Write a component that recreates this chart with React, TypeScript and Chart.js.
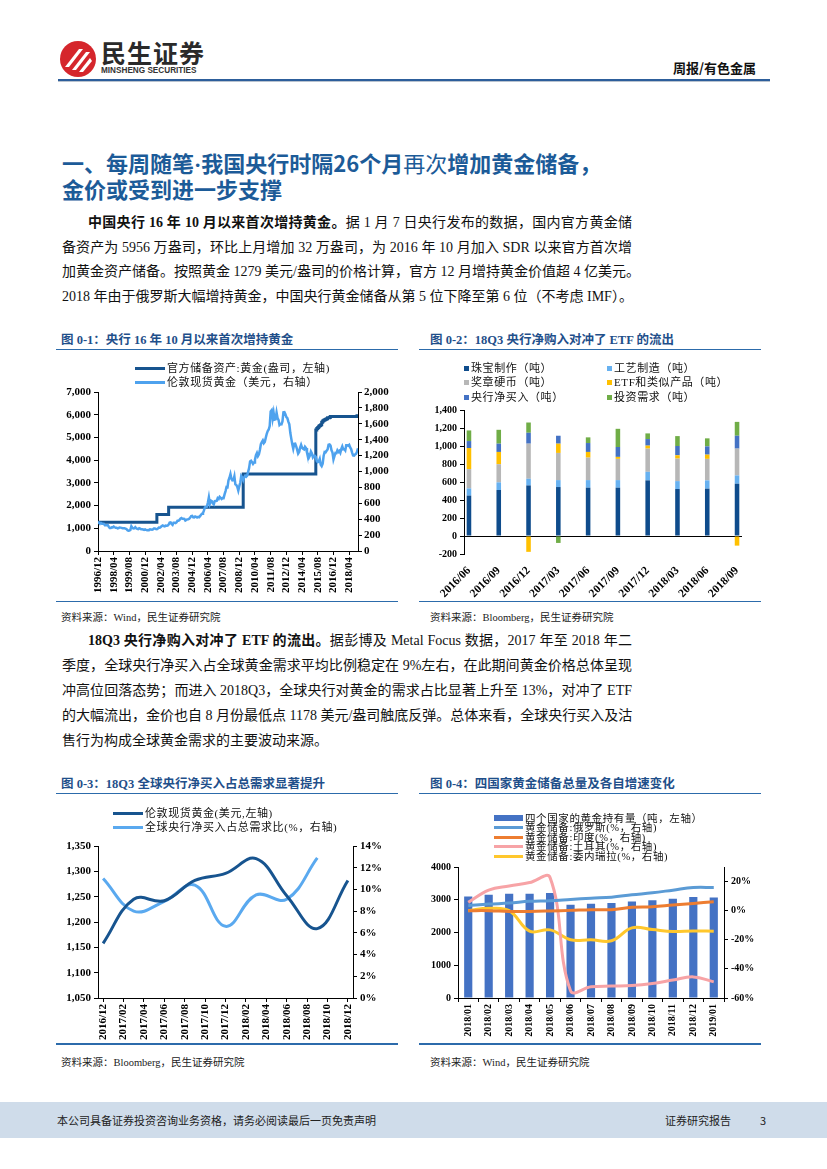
import React, { useEffect, useRef } from "react";
import { Chart, registerables } from "chart.js";
Chart.register(...registerables);

// ---------------- Data: 图 0-1 ----------------
const c1StartYear = 1996;
const c1StartMonth = 12;
const c1LastIndex = 265; // 2019/01
const c1TickIndexes = [0, 16, 32, 48, 64, 80, 96, 112, 128, 144, 160, 176, 192, 208, 224, 240, 256];
// London spot gold, USD/oz, monthly from 1996/12 to 2019/01
const goldLondon = [
  369,
  355, 346, 352, 344, 344, 341, 324, 324, 323, 325, 306, 289,
  289, 297, 296, 308, 299, 292, 293, 284, 289, 296, 294, 291,
  287, 287, 286, 282, 277, 262, 256, 257, 265, 311, 293, 283,
  284, 300, 286, 280, 275, 286, 282, 274, 273, 270, 266, 272,
  266, 262, 263, 261, 272, 270, 268, 273, 283, 283, 276, 275,
  282, 295, 294, 302, 314, 321, 314, 310, 319, 317, 319, 333,
  357, 359, 340, 328, 355, 356, 351, 360, 379, 379, 389, 407,
  414, 405, 406, 404, 384, 392, 398, 400, 406, 420, 439, 442,
  424, 423, 434, 429, 422, 430, 424, 438, 456, 470, 476, 510,
  549, 555, 557, 610, 676, 596, 634, 627, 599, 586, 627, 629,
  631, 665, 655, 680, 668, 655, 666, 665, 713, 754, 806, 803,
  889, 922, 968, 909, 888, 890, 939, 839, 830, 806, 760, 816,
  858, 943, 924, 890, 928, 946, 934, 949, 996, 1043, 1127, 1135,
  1118, 1095, 1113, 1148, 1205, 1232, 1193, 1215, 1271, 1343, 1370, 1391,
  1356, 1372, 1424, 1474, 1510, 1528, 1572, 1756, 1772, 1665, 1739, 1652,
  1656, 1742, 1673, 1650, 1585, 1596, 1594, 1630, 1745, 1747, 1721, 1685,
  1671, 1627, 1593, 1487, 1414, 1343, 1286, 1347, 1349, 1316, 1275, 1225,
  1244, 1300, 1336, 1299, 1287, 1279, 1311, 1296, 1239, 1222, 1176, 1200,
  1251, 1227, 1179, 1198, 1199, 1181, 1131, 1117, 1125, 1157, 1086, 1068,
  1097, 1199, 1245, 1242, 1260, 1276, 1337, 1341, 1326, 1267, 1238, 1151,
  1192, 1234, 1231, 1266, 1246, 1260, 1236, 1283, 1315, 1279, 1282, 1265,
  1331, 1331, 1325, 1335, 1303, 1282, 1238, 1202, 1199, 1215, 1221, 1250,
  1291,
];
// Official gold reserves (万盎司): months where the value changes
const reserveMonths = [
  "1996/12", "2001/12", "2002/12", "2009/04", "2015/06", "2015/07", "2015/08", "2015/09",
  "2015/10", "2015/11", "2015/12", "2016/01", "2016/02", "2016/03", "2016/04", "2016/05",
  "2016/06", "2016/08", "2016/09", "2018/12", "2019/01",
];
const reserveValues = [
  1267, 1608, 1929, 3389, 5332, 5393, 5441, 5493,
  5524, 5557, 5666, 5719, 5752, 5778, 5798, 5823,
  5862, 5888, 5924, 5956, 5956,
];

// ---------------- Data: 图 0-2 ----------------
const c2Quarters = ["2016/06", "2016/09", "2016/12", "2017/03", "2017/06", "2017/09", "2017/12", "2018/03", "2018/06", "2018/09"];
const jewelry = [449, 511, 562, 544, 537, 537, 618, 522, 526, 581];
const technology = [80, 85, 74, 77, 84, 84, 95, 88, 92, 92];
const medalsCoins = [214, 202, 390, 302, 250, 236, 258, 250, 239, 298];
const etfFlows = [235, 136, -176, 103, 63, 22, 33, 37, 47, -107];
const centralBanks = [77, 92, 121, 88, 99, 110, 73, 103, 92, 143];
const investment = [118, 154, 114, -77, 63, 202, 63, 110, 89, 154];

// ---------------- Data: 图 0-3 ----------------
const c3StartYear = 2016;
const c3StartMonth = 12;
const c3TickIndexes = [0, 2, 4, 6, 8, 10, 12, 14, 16, 18, 20, 22, 24];
const c3Months = ["2016/12", "2017/03", "2017/06", "2017/09", "2017/12", "2018/03", "2018/06", "2018/09", "2018/12"];
const c3GoldPrice = [1158, 1245, 1242, 1282, 1296, 1325, 1252, 1187, 1282];
const c3CbShare = [11.0, 8.0, 8.9, 10.4, 6.6, 9.5, 9.1, 12.9];

// ---------------- Data: 图 0-4 ----------------
const c4Months = ["2018/01", "2018/02", "2018/03", "2018/04", "2018/05", "2018/06", "2018/07", "2018/08", "2018/09", "2018/10", "2018/11", "2018/12", "2019/01"];
const fourHoldings = [3103, 3154, 3184, 3184, 3204, 2848, 2879, 2899, 2950, 2981, 3031, 3082, 3072];
const russiaGrowth = [3.4, 4.5, 5.2, 6.4, 6.8, 7.7, 8.6, 9.3, 10.9, 12.3, 14.1, 15.9, 15.9];
const indiaGrowth = [0, 0, -0.5, -0.5, -0.2, 0.2, 0.7, 0.7, 2.3, 2.7, 3.9, 5.0, 6.1];
const turkeyGrowth = [5.7, 14.1, 17.0, 19.3, 22.7, -55.0, -52.3, -51.8, -51.4, -50.0, -47.7, -45.5, -48.9];
const venezuelaGrowth = [0, 1.6, 0, -14.1, -13.2, -20.0, -20.0, -20.7, -11.8, -13.0, -14.3, -13.9, -14.1];

// ---------------- helpers ----------------
const SERIF = "'Liberation Serif', 'Times New Roman', serif";
const CJK = "'Noto Sans CJK SC', sans-serif";
const BODY = "'Liberation Serif', 'Noto Sans CJK SC', serif";

function monthLabel(i: number, sy: number, sm: number) {
  const t = sy * 12 + (sm - 1) + Math.round(i);
  const y = Math.floor(t / 12);
  const m = (t % 12) + 1;
  return `${y}/${m < 10 ? "0" + m : m}`;
}
function monthIndex(label: string, sy: number, sm: number) {
  const [y, m] = label.split("/").map(Number);
  return (y - sy) * 12 + (m - sm);
}
const comma = (v: number) => Number(v).toLocaleString("en-US");
const tickFont = (size: number) => ({ family: SERIF, size, weight: "bold" as const });
const axisGrid = { display: true, drawOnChartArea: false, drawTicks: true, tickLength: 4, color: "#000", tickColor: "#000" };
const axisBorder = { display: true, color: "#000", width: 1 };

function ChartCanvas({ left, top, width, height, make }: any) {
  const ref = useRef<HTMLCanvasElement>(null);
  useEffect(() => {
    const chart = new Chart(ref.current as HTMLCanvasElement, make());
    return () => chart.destroy();
  }, []);
  return (
    <canvas
      ref={ref}
      width={width}
      height={height}
      style={{ position: "absolute", left, top, width, height }}
    />
  );
}

// ---------------- chart configs ----------------
function makeChart1(): any {
  const goldPts = goldLondon.map((v, i) => ({ x: i, y: v }));
  const resPts = reserveMonths.map((m, k) => ({ x: monthIndex(m, c1StartYear, c1StartMonth), y: reserveValues[k] }));
  return {
    type: "line",
    data: {
      datasets: [
        { label: "伦敦现货黄金（美元，右轴）", data: goldPts, yAxisID: "y1", borderColor: "#4ea2ee", borderWidth: 2.5, pointRadius: 0, tension: 0 },
        { label: "官方储备资产:黄金(盎司，左轴)", data: resPts, yAxisID: "y", borderColor: "#17548f", borderWidth: 3, pointRadius: 0, stepped: true },
      ],
    },
    options: {
      responsive: false,
      animation: false,
      layout: { padding: { top: 37, left: 0, right: 0, bottom: 0 } },
      plugins: { legend: { display: false }, tooltip: { enabled: false } },
      scales: {
        x: {
          type: "linear", min: 0, max: c1LastIndex,
          afterBuildTicks: (s: any) => { s.ticks = c1TickIndexes.map((v) => ({ value: v })); },
          ticks: { callback: (v: number) => monthLabel(v, c1StartYear, c1StartMonth), minRotation: 90, maxRotation: 90, autoSkip: false, font: tickFont(11), color: "#000", padding: 2 },
          grid: axisGrid, border: axisBorder,
          afterFit: (s: any) => { s.height = 49; },
        },
        y: {
          position: "left", min: 0, max: 7000,
          ticks: { stepSize: 1000, autoSkip: false, callback: comma, font: tickFont(11), color: "#000", padding: 3 },
          grid: axisGrid, border: axisBorder,
          afterFit: (s: any) => { s.width = 43; },
        },
        y1: {
          position: "right", min: 0, max: 2000,
          ticks: { stepSize: 200, autoSkip: false, callback: comma, font: tickFont(11), color: "#000", padding: 2 },
          grid: axisGrid, border: axisBorder,
          afterFit: (s: any) => { s.width = 42; },
        },
      },
    },
  };
}

function makeChart2(): any {
  const first = c2Quarters[0].split("/").map(Number);
  const last = monthIndex(c2Quarters[c2Quarters.length - 1], first[0], first[1]);
  const months: string[] = [];
  for (let i = 0; i <= last; i++) months.push(monthLabel(i, first[0], first[1]));
  const place = (vals: number[]) => months.map((m) => { const k = c2Quarters.indexOf(m); return k >= 0 ? vals[k] : null; });
  const ds = (label: string, vals: number[], color: string) => ({ label, data: place(vals), backgroundColor: color, stack: "s", categoryPercentage: 1, barPercentage: 0.46 });
  return {
    type: "bar",
    data: {
      labels: months,
      datasets: [
        ds("珠宝制作（吨）", jewelry, "#0f4c8c"),
        ds("工艺制造（吨）", technology, "#67b1f0"),
        ds("奖章硬币（吨）", medalsCoins, "#b7b7b7"),
        ds("ETF和类似产品（吨）", etfFlows, "#ffc000"),
        ds("央行净买入（吨）", centralBanks, "#4472c4"),
        ds("投资需求（吨）", investment, "#70ad47"),
      ],
    },
    options: {
      responsive: false,
      animation: false,
      layout: { padding: { top: 55, left: 0, right: 18, bottom: 0 } },
      plugins: { legend: { display: false }, tooltip: { enabled: false } },
      scales: {
        x: {
          stacked: true,
          ticks: {
            callback: (_v: any, i: number) => (c2Quarters.includes(months[i]) ? months[i] : ""),
            autoSkip: false, minRotation: 45, maxRotation: 45, font: tickFont(11.5), color: "#000", padding: 2,
          },
          grid: { display: false },
          border: { display: false },
          afterFit: (s: any) => { s.height = 46; },
        },
        y: {
          stacked: true, min: -200, max: 1400,
          ticks: { stepSize: 200, autoSkip: false, callback: comma, font: tickFont(10), color: "#000", padding: 3 },
          grid: {
            display: true, drawOnChartArea: true, drawTicks: true, tickLength: 4, tickColor: "#000",
            color: (ctx: any) => (ctx.tick && ctx.tick.value === 0 ? "#000" : "rgba(0,0,0,0)"),
          },
          border: axisBorder,
          afterFit: (s: any) => { s.width = 49; },
        },
      },
    },
  };
}

function makeChart3(): any {
  const idx = c3Months.map((m) => monthIndex(m, c3StartYear, c3StartMonth));
  return {
    type: "line",
    data: {
      datasets: [
        { label: "伦敦现货黄金(美元,左轴)", data: c3GoldPrice.map((v, k) => ({ x: idx[k], y: v })), yAxisID: "y", borderColor: "#17548f", borderWidth: 3, pointRadius: 0, tension: 0.4 },
        { label: "全球央行净买入占总需求比(%，右轴)", data: c3CbShare.map((v, k) => ({ x: idx[k], y: v })), yAxisID: "y1", borderColor: "#5aa9ef", borderWidth: 3, pointRadius: 0, tension: 0.4 },
      ],
    },
    options: {
      responsive: false,
      animation: false,
      layout: { padding: { top: 46, left: 0, right: 0, bottom: 0 } },
      plugins: { legend: { display: false }, tooltip: { enabled: false } },
      scales: {
        x: {
          type: "linear", min: -0.5, max: 24.5,
          afterBuildTicks: (s: any) => { s.ticks = c3TickIndexes.map((v) => ({ value: v })); },
          ticks: { callback: (v: number) => monthLabel(v, c3StartYear, c3StartMonth), minRotation: 90, maxRotation: 90, autoSkip: false, font: tickFont(11), color: "#000", padding: 2 },
          grid: axisGrid, border: axisBorder,
          afterFit: (s: any) => { s.height = 47; },
        },
        y: {
          position: "left", min: 1050, max: 1350,
          ticks: { stepSize: 50, autoSkip: false, callback: comma, font: tickFont(11), color: "#000", padding: 3 },
          grid: axisGrid, border: axisBorder,
          afterFit: (s: any) => { s.width = 43; },
        },
        y1: {
          position: "right", min: 0, max: 14,
          ticks: { stepSize: 2, autoSkip: false, callback: (v: number) => `${v}%`, font: tickFont(11), color: "#000", padding: 3 },
          grid: axisGrid, border: axisBorder,
          afterFit: (s: any) => { s.width = 47; },
        },
      },
    },
  };
}

function makeChart4(): any {
  const line = (label: string, data: number[], color: string) => ({ type: "line", label, data, yAxisID: "y1", borderColor: color, borderWidth: 3, pointRadius: 0, tension: 0.4, order: 1 });
  return {
    type: "bar",
    data: {
      labels: c4Months,
      datasets: [
        { type: "bar", label: "四个国家的黄金持有量（吨，左轴）", data: fourHoldings, yAxisID: "y", backgroundColor: "#4472c4", categoryPercentage: 1, barPercentage: 0.4, order: 2 },
        line("黄金储备:俄罗斯(%，右轴)", russiaGrowth, "#5b9bd5"),
        line("黄金储备:印度(%，右轴)", indiaGrowth, "#ed7d31"),
        line("黄金储备:土耳其(%，右轴)", turkeyGrowth, "#f7a3a6"),
        line("黄金储备:委内瑞拉(%，右轴)", venezuelaGrowth, "#ffc72c"),
      ],
    },
    options: {
      responsive: false,
      animation: false,
      layout: { padding: { top: 67, left: 0, right: 0, bottom: 0 } },
      plugins: { legend: { display: false }, tooltip: { enabled: false } },
      scales: {
        x: {
          ticks: { autoSkip: false, minRotation: 90, maxRotation: 90, font: tickFont(10), color: "#000", padding: 2 },
          grid: { display: true, drawOnChartArea: false, drawTicks: true, tickLength: 4, color: "#000", tickColor: "#000", offset: true },
          border: axisBorder,
          afterFit: (s: any) => { s.height = 47; },
        },
        y: {
          position: "left", min: 0, max: 4000,
          ticks: { stepSize: 1000, autoSkip: false, callback: (v: number) => String(v), font: tickFont(10), color: "#000", padding: 3 },
          grid: axisGrid, border: axisBorder,
          afterFit: (s: any) => { s.width = 43; },
        },
        y1: {
          position: "right", min: -60, max: 30,
          afterBuildTicks: (s: any) => { s.ticks = [-60, -40, -20, 0, 20].map((v) => ({ value: v })); },
          ticks: { autoSkip: false, callback: (v: number) => `${v}%`, font: tickFont(10), color: "#000", padding: 3 },
          grid: axisGrid, border: axisBorder,
          afterFit: (s: any) => { s.width = 36; },
        },
      },
    },
  };
}

// ---------------- page pieces ----------------
const abs = (s: any) => ({ position: "absolute" as const, ...s });

function TextLine({ top, left, width, children, justify, size = 14, bold = false, color = "#111", font = BODY }: any) {
  return (
    <div
      style={abs({
        top, left, width, height: 20, lineHeight: "20px", fontSize: size, fontFamily: font,
        fontWeight: bold ? 700 : 400, color, whiteSpace: "nowrap",
        textAlign: justify ? "justify" : "left", textAlignLast: justify ? "justify" : "left",
      })}
    >
      {children}
    </div>
  );
}

function Rule({ top, left, width, h = 1.5, color = "#2c6bab" }: any) {
  return <div style={abs({ top, left, width, height: h, background: color })} />;
}

function LegendItem({ top, left, kind, color, text, size = 11, sw = 30 }: any) {
  const sample =
    kind === "line" ? <div style={abs({ left: 0, top: 5, width: sw, height: 3, background: color })} /> :
    kind === "bar" ? <div style={abs({ left: 0, top: 3.5, width: sw, height: 6, background: color })} /> :
    <div style={abs({ left: 0, top: 4, width: 5, height: 5, background: color })} />;
  const tx = kind === "square" ? 7 : sw + 2;
  return (
    <div style={abs({ top: top - 6.5, left, height: 13 })}>
      {sample}
      <div style={abs({ left: tx, top: 0, lineHeight: "13px", fontSize: size, fontFamily: BODY, color: "#111", whiteSpace: "nowrap", letterSpacing: 0.6 })}>{text}</div>
    </div>
  );
}

function ChartTitle({ top, left, text }: any) {
  return (
    <div style={abs({ top: top - 9, left, lineHeight: "18px", fontSize: 12.5, fontWeight: 700, fontFamily: BODY, color: "#1f4f8a", whiteSpace: "nowrap" })}>{text}</div>
  );
}
function Source({ top, left, text }: any) {
  return (
    <div style={abs({ top: top - 8, left, lineHeight: "16px", fontSize: 10.5, fontFamily: BODY, color: "#222", whiteSpace: "nowrap" })}>{text}</div>
  );
}

export default function App() {
  const TX = 62;
  const TW = 570;
  const titleStyle = { fontSize: 22, fontWeight: 700, fontFamily: CJK, color: "#1c5b98", lineHeight: "26px", whiteSpace: "nowrap" };
  return (
    <div style={abs({ left: 0, top: 0, width: 827, height: 1169, background: "#fff", overflow: "hidden" })}>
      {/* header */}
      <svg style={abs({ left: 59, top: 40 })} width={38} height={38} viewBox="0 0 38 38">
        <circle cx={19} cy={19} r={18} fill="#d5262c" />
        <path d="M6 27 L20 9 L24 9 L10 27 Z" fill="#fff" />
        <path d="M13 30 L27 12 L31 12 L17 30 Z" fill="#fff" />
        <path d="M20 32 L31 18 L33 21 L24 32 Z" fill="#fff" />
      </svg>
      <div style={abs({ left: 101, top: 38, fontSize: 25, fontWeight: 700, fontFamily: CJK, color: "#2a2a2a", lineHeight: "28px", letterSpacing: 1 })}>民生证券</div>
      <div style={abs({ left: 101, top: 66, fontSize: 8.2, fontWeight: 700, fontFamily: "'Liberation Sans', Arial, sans-serif", color: "#333", lineHeight: "10px" })}>MINSHENG SECURITIES</div>
      <div style={abs({ left: 660, top: 59, width: 96, textAlign: "right", fontSize: 13, fontWeight: 700, fontFamily: CJK, color: "#111", lineHeight: "18px" })}>周报/有色金属</div>
      <Rule top={79} left={58} width={712} h={2.2} color="#2d5e9b" />
      <Rule top={81.2} left={58} width={712} h={0.8} color="#b9c3cf" />

      {/* section title */}
      <div style={abs({ left: TX, top: 149, ...titleStyle })}>
        一、每周随笔<span style={{ fontFamily: SERIF }}>·</span>我国央行时隔26个月<span style={{ fontWeight: 400, fontFamily: BODY }}>再次</span>增加黄金储备，
      </div>
      <div style={abs({ left: TX, top: 175, ...titleStyle })}>金价或受到进一步支撑</div>

      {/* paragraph 1 */}
      <TextLine top={213} left={TX + 26} width={TW - 26} justify>
        <b>中国央行 16 年 10 月以来首次增持黄金。</b>据 1 月 7 日央行发布的数据，国内官方黄金储
      </TextLine>
      <TextLine top={238} left={TX} width={TW} justify>备资产为 5956 万盎司，环比上月增加 32 万盎司，为 2016 年 10 月加入 SDR 以来官方首次增</TextLine>
      <TextLine top={262} left={TX} width={TW} justify>加黄金资产储备。按照黄金 1279 美元/盎司的价格计算，官方 12 月增持黄金价值超 4 亿美元。</TextLine>
      <TextLine top={287} left={TX} width={TW}>2018 年由于俄罗斯大幅增持黄金，中国央行黄金储备从第 5 位下降至第 6 位（不考虑 IMF）。</TextLine>

      {/* chart titles row 1 */}
      <ChartTitle top={340} left={61} text="图 0-1：央行 16 年 10 月以来首次增持黄金" />
      <ChartTitle top={340} left={430} text="图 0-2：18Q3 央行净购入对冲了 ETF 的流出" />
      <Rule top={348.5} left={56} width={342} />
      <Rule top={348.5} left={419} width={342} />

      {/* chart 1 */}
      <ChartCanvas left={55} top={355} width={345} height={245} make={makeChart1} />
      <LegendItem top={368} left={135} kind="line" color="#17548f" text="官方储备资产:黄金(盎司，左轴)" />
      <LegendItem top={382} left={135} kind="line" color="#4ea2ee" text="伦敦现货黄金（美元，右轴）" />

      {/* chart 2 */}
      <ChartCanvas left={415} top={355} width={345} height={245} make={makeChart2} />
      <LegendItem top={368} left={464} kind="square" color="#0f4c8c" text="珠宝制作（吨）" />
      <LegendItem top={382} left={464} kind="square" color="#b7b7b7" text="奖章硬币（吨）" />
      <LegendItem top={397} left={464} kind="square" color="#4472c4" text="央行净买入（吨）" />
      <LegendItem top={368} left={607} kind="square" color="#67b1f0" text="工艺制造（吨）" />
      <LegendItem top={382} left={607} kind="square" color="#ffc000" text="ETF和类似产品（吨）" />
      <LegendItem top={397} left={607} kind="square" color="#70ad47" text="投资需求（吨）" />

      <Rule top={600.5} left={56} width={342} />
      <Rule top={600.5} left={419} width={342} />
      <Source top={618} left={61} text="资料来源：Wind，民生证券研究院" />
      <Source top={618} left={430} text="资料来源：Bloomberg，民生证券研究院" />

      {/* paragraph 2 */}
      <TextLine top={631} left={TX + 26} width={TW - 26} justify>
        <b>18Q3 央行净购入对冲了 ETF 的流出。</b>据彭博及 Metal Focus 数据，2017 年至 2018 年二
      </TextLine>
      <TextLine top={656} left={TX} width={TW} justify>季度，全球央行净买入占全球黄金需求平均比例稳定在 9%左右，在此期间黄金价格总体呈现</TextLine>
      <TextLine top={681} left={TX} width={TW} justify>冲高位回落态势；而进入 2018Q3，全球央行对黄金的需求占比显著上升至 13%，对冲了 ETF</TextLine>
      <TextLine top={706} left={TX} width={TW} justify>的大幅流出，金价也自 8 月份最低点 1178 美元/盎司触底反弹。总体来看，全球央行买入及沽</TextLine>
      <TextLine top={731} left={TX} width={TW}>售行为构成全球黄金需求的主要波动来源。</TextLine>

      {/* chart titles row 2 */}
      <ChartTitle top={784} left={61} text="图 0-3：18Q3 全球央行净买入占总需求显著提升" />
      <ChartTitle top={784} left={430} text="图 0-4：四国家黄金储备总量及各自增速变化" />
      <Rule top={792.5} left={56} width={342} />
      <Rule top={792.5} left={419} width={342} />

      {/* chart 3 */}
      <ChartCanvas left={55} top={800} width={345} height={245} make={makeChart3} />
      <LegendItem top={813} left={113} kind="line" color="#17548f" text="伦敦现货黄金(美元,左轴)" />
      <LegendItem top={827} left={113} kind="line" color="#5aa9ef" text="全球央行净买入占总需求比(%，右轴)" />

      {/* chart 4 */}
      <ChartCanvas left={415} top={800} width={345} height={245} make={makeChart4} />
      <LegendItem top={818} left={494} kind="bar" sw={29} size={10.5} color="#4472c4" text="四个国家的黄金持有量（吨，左轴）" />
      <LegendItem top={827.5} left={494} kind="line" sw={29} size={10.5} color="#5b9bd5" text="黄金储备:俄罗斯(%，右轴)" />
      <LegendItem top={837} left={494} kind="line" sw={29} size={10.5} color="#ed7d31" text="黄金储备:印度(%，右轴)" />
      <LegendItem top={846.5} left={494} kind="line" sw={29} size={10.5} color="#f7a3a6" text="黄金储备:土耳其(%，右轴)" />
      <LegendItem top={856.5} left={494} kind="line" sw={29} size={10.5} color="#ffc72c" text="黄金储备:委内瑞拉(%，右轴)" />

      <Rule top={1043} left={56} width={342} />
      <Rule top={1043} left={419} width={342} />
      <Source top={1063} left={61} text="资料来源：Bloomberg，民生证券研究院" />
      <Source top={1063} left={430} text="资料来源：Wind，民生证券研究院" />

      {/* footer */}
      <div style={abs({ left: 0, top: 1102, width: 827, height: 36, background: "#cfdcea" })} />
      <div style={abs({ left: 57, top: 1112, lineHeight: "16px", fontSize: 11, fontFamily: CJK, color: "#222", whiteSpace: "nowrap" })}>本公司具备证券投资咨询业务资格，请务必阅读最后一页免责声明</div>
      <div style={abs({ left: 665, top: 1112, lineHeight: "16px", fontSize: 11, fontFamily: CJK, color: "#222", whiteSpace: "nowrap" })}>证券研究报告</div>
      <div style={abs({ left: 760, top: 1112, lineHeight: "16px", fontSize: 11, fontFamily: CJK, color: "#222" })}>3</div>
    </div>
  );
}
